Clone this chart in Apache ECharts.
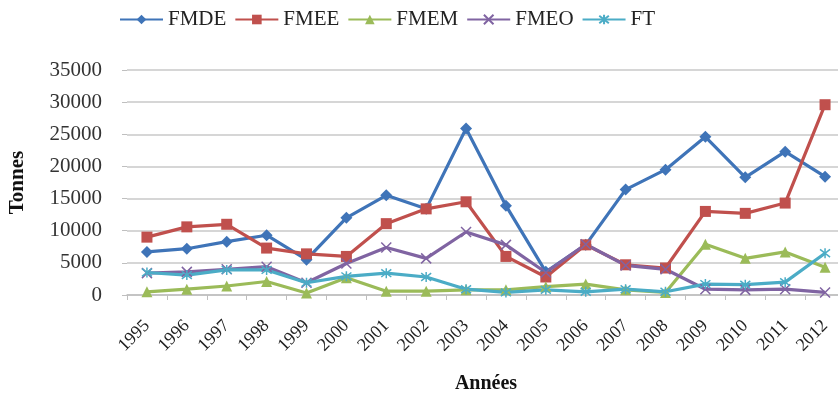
<!DOCTYPE html>
<html><head><meta charset="utf-8">
<script src="https://cdn.jsdelivr.net/npm/echarts@6/dist/echarts.min.js"></script>
<style>html,body{margin:0;padding:0;background:#fff}#c{width:838px;height:396px}</style>
</head><body><div id="c"></div>
<script>
const years = ['1995','1996','1997','1998','1999','2000','2001','2002','2003','2004','2005','2006','2007','2008','2009','2010','2011','2012'];
const FMDE = [6700, 7200, 8300, 9300, 5500, 12000, 15500, 13400, 25900, 13900, 3600, 7800, 16400, 19500, 24600, 18300, 22300, 18400];
const FMEE = [9000, 10600, 11000, 7300, 6400, 6000, 11100, 13400, 14500, 6000, 2800, 7800, 4700, 4200, 13000, 12700, 14300, 29600];
const FMEM = [500, 900, 1400, 2100, 300, 2700, 600, 600, 800, 800, 1300, 1700, 800, 400, 7900, 5700, 6700, 4300];
const FMEO = [3400, 3600, 4000, 4400, 1900, 4900, 7400, 5700, 9800, 7800, 3500, 7900, 4600, 4000, 900, 800, 900, 400];
const FT = [3500, 3100, 3900, 3900, 1900, 2900, 3400, 2800, 900, 400, 800, 500, 900, 500, 1700, 1600, 2000, 6500];
const yTicks = [0, 5000, 10000, 15000, 20000, 25000, 30000, 35000];

const serif = '"Liberation Serif", "DejaVu Serif", serif';
const xPath = 'path://M0,0L10,10M10,0L0,10';
const starPath = 'path://M0,0L10,10M10,0L0,10M5,-1.5L5,11.5';
function mk(name, data, color, symbol, size, stroke) {
  return {
    name, type: 'line', data, symbol, symbolSize: size,
    lineStyle: { color, width: 3.2 },
    itemStyle: stroke ? { color: color, borderColor: color, borderWidth: 1.5 } : { color },
    emphasis: { disabled: true }
  };
}
const chart = echarts.init(document.getElementById('c'));
chart.setOption({
  animation: false,
  legend: {
    top: 4, left: 114,
    itemWidth: 43, itemHeight: 12, itemGap: 8,
    textStyle: { fontFamily: serif, fontSize: 21, color: '#222' }
  },
  grid: { left: 127, right: -7, top: 70, bottom: 101, outerBoundsMode: 'none', containLabel: false },
  xAxis: {
    type: 'category', data: years, boundaryGap: true,
    name: 'Années', nameLocation: 'middle', nameGap: 79, nameMoveOverlap: false,
    nameTextStyle: { fontFamily: serif, fontSize: 20, fontWeight: 'bold', color: '#111' },
    axisLine: { lineStyle: { color: '#BFBFBF', width: 1.5 } },
    axisTick: { show: true, length: 5, lineStyle: { color: '#BFBFBF' } },
    axisLabel: { rotate: 45, margin: 28, fontFamily: serif, fontSize: 18, color: '#222' }
  },
  yAxis: {
    type: 'value', min: 0, max: 35000, interval: 5000,
    name: 'Tonnes', nameLocation: 'middle', nameGap: 99, nameRotate: 90,
    nameTextStyle: { fontFamily: serif, fontSize: 21, fontWeight: 'bold', color: '#111' },
    axisLine: { show: false },
    axisTick: { show: true, length: 5, lineStyle: { color: '#BFBFBF' } },
    splitLine: { lineStyle: { color: '#C8C8C8', width: 1.5 } },
    axisLabel: { margin: 25, fontFamily: serif, fontSize: 21, color: '#333',
      customValues: yTicks, formatter: v => String(v) }
  },
  series: [
    mk('FMDE', FMDE, '#3F74B8', 'diamond', 12),
    mk('FMEE', FMEE, '#C0504D', 'rect', 11),
    mk('FMEM', FMEM, '#9BBB59', 'triangle', 11),
    mk('FMEO', FMEO, '#8064A2', xPath, 10, true),
    mk('FT', FT, '#4BACC6', starPath, 10, true)
  ]
});
</script></body></html>
